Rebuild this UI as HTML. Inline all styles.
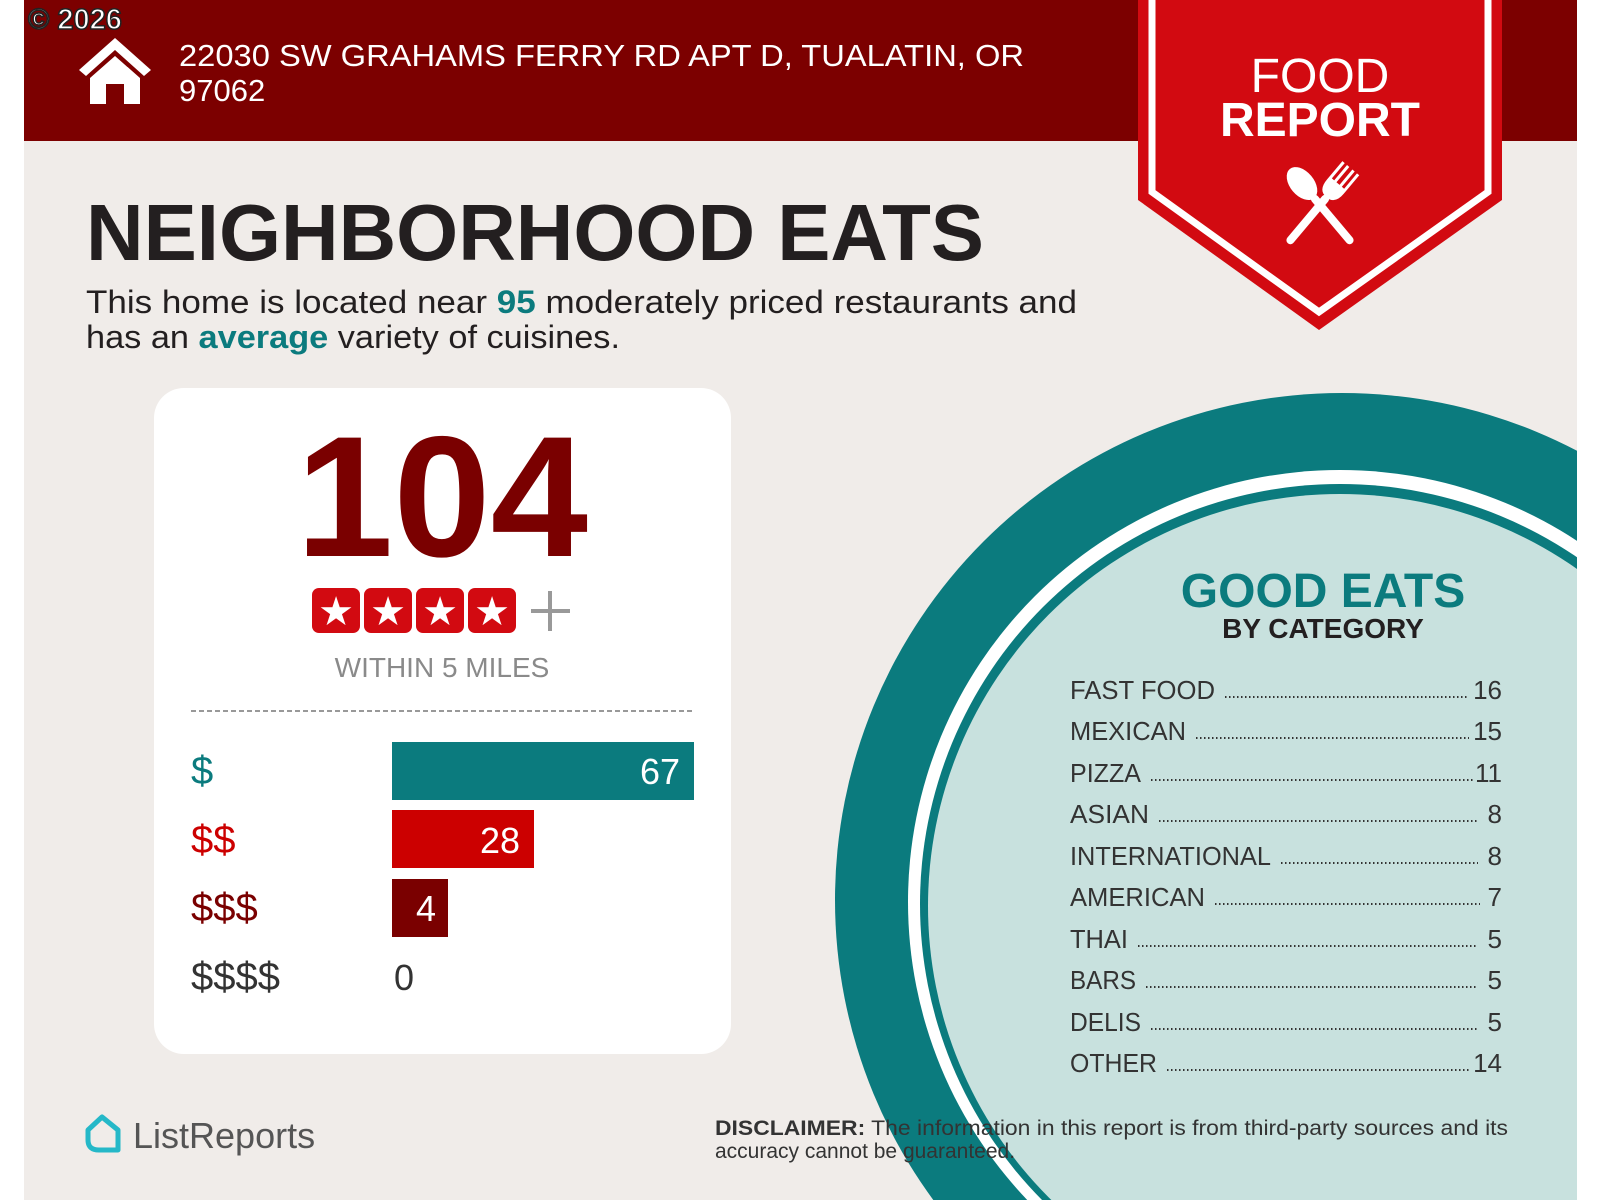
<!DOCTYPE html>
<html><head><meta charset="utf-8"><style>
html,body{margin:0;padding:0;background:#fff;width:1600px;height:1200px;overflow:hidden;}
svg{display:block;font-family:"Liberation Sans",sans-serif;}
</style></head><body>
<svg width="1600" height="1200" viewBox="0 0 1600 1200" xmlns="http://www.w3.org/2000/svg">
<defs><clipPath id="pg"><rect x="24" y="0" width="1553" height="1200"/></clipPath></defs>
<rect x="0" y="0" width="1600" height="1200" fill="#fff"/>
<rect x="24" y="0" width="1553" height="1200" fill="#f0ece9"/>
<g clip-path="url(#pg)">
<circle cx="1342" cy="900" r="507" fill="#0b7b7e"/>
<circle cx="1340" cy="902" r="432" fill="#fff"/>
<circle cx="1340" cy="904" r="420" fill="#0b7b7e"/>
<circle cx="1340" cy="906" r="412" fill="#c8e1de"/>
</g>
<rect x="24" y="0" width="1553" height="141" fill="#7c0000"/>
<path d="M1138 0 H1502 V200 L1319 330 L1138 200 Z" fill="#d20a11"/>
<path d="M1152 0 V192 L1319 312 L1488 192 V0" fill="none" stroke="#fff" stroke-width="7"/>
<text x="1320" y="92" fill="#fff" font-size="48" text-anchor="middle">FOOD</text>
<text x="1320" y="136" fill="#fff" font-size="48" font-weight="bold" text-anchor="middle">REPORT</text>
<g fill="#fff">
<g transform="translate(1320,205) rotate(-40)"><ellipse cx="0" cy="-28" rx="12" ry="19"/><rect x="-4" y="-12" width="8" height="62" rx="4"/></g>
<g transform="translate(1320,205) rotate(40)"><rect x="-4" y="-12" width="8" height="62" rx="4"/><path d="M-11 -48 V-24 Q-11 -10 0 -10 Q11 -10 11 -24 V-48 H8 V-28 H5 V-48 H2 V-28 H-2 V-48 H-5 V-28 H-8 V-48 Z"/></g>
</g>
<text x="28" y="29" fill="#fff" stroke="#222" stroke-width="1.5" font-size="29" font-weight="bold">© 2026</text>
<path d="M115 38 L79 70 L86 76 L115 50 L144 76 L151 70 Z M90 78 L115 56 L140 78 V104 H124 V84 H106 V104 H90 Z" fill="#fff"/>
<text x="179" y="66" fill="#fff" font-size="31" textLength="845" lengthAdjust="spacingAndGlyphs">22030 SW GRAHAMS FERRY RD APT D, TUALATIN, OR</text>
<text x="179" y="101" fill="#fff" font-size="31">97062</text>
<text x="86" y="260" fill="#231f20" font-size="80" font-weight="bold" textLength="898" lengthAdjust="spacingAndGlyphs">NEIGHBORHOOD EATS</text>
<text x="86" y="313" fill="#231f20" font-size="32" textLength="991" lengthAdjust="spacingAndGlyphs">This home is located near <tspan fill="#0b7b7e" font-weight="bold">95</tspan> moderately priced restaurants and</text>
<text x="86" y="348" fill="#231f20" font-size="32" textLength="534" lengthAdjust="spacingAndGlyphs">has an <tspan fill="#0b7b7e" font-weight="bold">average</tspan> variety of cuisines.</text>
<rect x="154" y="388" width="577" height="666" rx="30" fill="#fff"/>
<text x="442" y="556" fill="#7a0000" font-size="172" font-weight="bold" text-anchor="middle" textLength="292" lengthAdjust="spacingAndGlyphs">104</text>
<g>
<rect x="312" y="588" width="48" height="45" rx="7" fill="#d20a11"/>
<rect x="364" y="588" width="48" height="45" rx="7" fill="#d20a11"/>
<rect x="416" y="588" width="48" height="45" rx="7" fill="#d20a11"/>
<rect x="468" y="588" width="48" height="45" rx="7" fill="#d20a11"/>
<g fill="#fff" font-size="40" text-anchor="middle"><text x="336" y="625">★</text><text x="388" y="625">★</text><text x="440" y="625">★</text><text x="492" y="625">★</text></g>
<path d="M550 591 V631 M531 611 H570" stroke="#999" stroke-width="4"/>
</g>
<text x="442" y="677" fill="#8a8a8a" font-size="28" text-anchor="middle">WITHIN 5 MILES</text>
<line x1="191" y1="711" x2="694" y2="711" stroke="#999" stroke-width="2" stroke-dasharray="5 3"/>
<rect x="392" y="742" width="302" height="58" fill="#0b7b7e"/>
<rect x="392" y="810" width="142" height="58" fill="#cc0000"/>
<rect x="392" y="879" width="56" height="58" fill="#7a0000"/>
<g font-size="36" fill="#fff" text-anchor="end"><text x="680" y="784">67</text><text x="520" y="853">28</text><text x="436" y="921">4</text></g>
<text x="394" y="990" font-size="36" fill="#333">0</text>
<g font-size="40"><text x="191" y="784" fill="#0b7b7e">$</text><text x="191" y="853" fill="#cc0000">$$</text><text x="191" y="921" fill="#7a0000">$$$</text><text x="191" y="990" fill="#333">$$$$</text></g>
<path d="M88 1130 L102 1117 L118 1130 V1150 H99 Q88 1150 88 1140 Z" fill="none" stroke="#25b8c8" stroke-width="5" stroke-linejoin="round"/>
<text x="133" y="1148" fill="#555" font-size="36">ListReports</text>
<text x="715" y="1135" fill="#333" font-size="21" textLength="793" lengthAdjust="spacingAndGlyphs"><tspan font-weight="bold">DISCLAIMER:</tspan> The information in this report is from third-party sources and its</text>
<text x="715" y="1158" fill="#333" font-size="21">accuracy cannot be guaranteed.</text>
<text x="1323" y="607" fill="#0b7b7e" font-size="48" font-weight="bold" text-anchor="middle">GOOD EATS</text>
<text x="1323" y="638" fill="#231f20" font-size="28" font-weight="bold" text-anchor="middle">BY CATEGORY</text>
<g font-size="26" fill="#333">
<text x="1070" y="699" textLength="145" lengthAdjust="spacingAndGlyphs">FAST FOOD</text>
<text x="1070" y="740" textLength="116" lengthAdjust="spacingAndGlyphs">MEXICAN</text>
<text x="1070" y="782" textLength="71" lengthAdjust="spacingAndGlyphs">PIZZA</text>
<text x="1070" y="823" textLength="79" lengthAdjust="spacingAndGlyphs">ASIAN</text>
<text x="1070" y="865" textLength="201" lengthAdjust="spacingAndGlyphs">INTERNATIONAL</text>
<text x="1070" y="906" textLength="135" lengthAdjust="spacingAndGlyphs">AMERICAN</text>
<text x="1070" y="948" textLength="58" lengthAdjust="spacingAndGlyphs">THAI</text>
<text x="1070" y="989" textLength="66" lengthAdjust="spacingAndGlyphs">BARS</text>
<text x="1070" y="1031" textLength="71" lengthAdjust="spacingAndGlyphs">DELIS</text>
<text x="1070" y="1072" textLength="87" lengthAdjust="spacingAndGlyphs">OTHER</text>
<g text-anchor="end">
<text x="1502" y="699">16</text><text x="1502" y="740">15</text><text x="1502" y="782">11</text><text x="1502" y="823">8</text><text x="1502" y="865">8</text><text x="1502" y="906">7</text><text x="1502" y="948">5</text><text x="1502" y="989">5</text><text x="1502" y="1031">5</text><text x="1502" y="1072">14</text>
</g>
</g>
<g stroke="#333" stroke-width="2" stroke-dasharray="1.5 2.5">
<line x1="1225" y1="697" x2="1469" y2="697"/>
<line x1="1196" y1="738" x2="1469" y2="738"/>
<line x1="1151" y1="780" x2="1474" y2="780"/>
<line x1="1159" y1="821" x2="1478" y2="821"/>
<line x1="1281" y1="863" x2="1478" y2="863"/>
<line x1="1215" y1="904" x2="1480" y2="904"/>
<line x1="1138" y1="946" x2="1478" y2="946"/>
<line x1="1146" y1="987" x2="1478" y2="987"/>
<line x1="1151" y1="1029" x2="1478" y2="1029"/>
<line x1="1167" y1="1070" x2="1469" y2="1070"/>
</g>
</svg>
</body></html>
